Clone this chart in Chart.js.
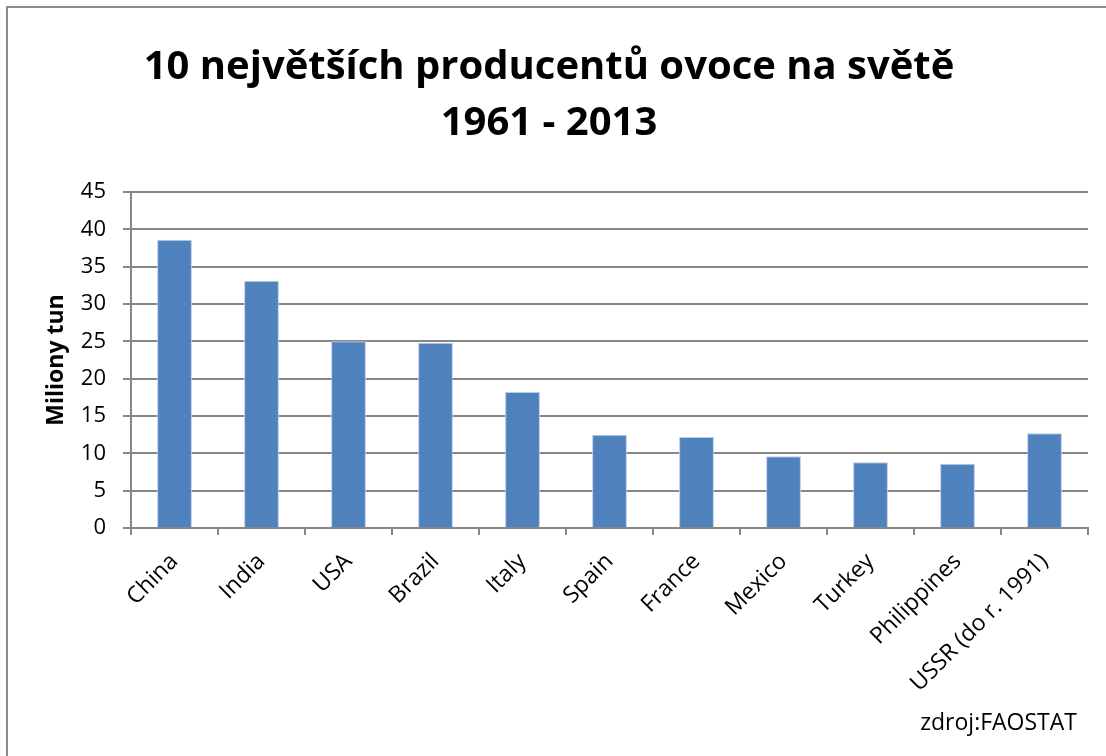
<!DOCTYPE html>
<html>
<head>
<meta charset="utf-8">
<script src="https://cdn.jsdelivr.net/npm/chart.js@4"></script>
<style>
  html, body { margin: 0; padding: 0; background: #fff; }
  #wrap { position: relative; width: 1106px; height: 756px; }
</style>
</head>
<body>
<div id="wrap"><canvas id="fruitChart" width="1106" height="756"></canvas></div>
<script>
const countries = ['China', 'India', 'USA', 'Brazil', 'Italy', 'Spain', 'France', 'Mexico', 'Turkey', 'Philippines', 'USSR (do r. 1991)'];
const production = [38.6, 33.1, 25.0, 24.8, 18.2, 12.5, 12.2, 9.6, 8.8, 8.6, 12.7];
const yTicks = [0, 5, 10, 15, 20, 25, 30, 35, 40, 45];

const FONT = "'Open Sans', sans-serif";
const GRID = '#878787';

// ramecek kolem celeho grafu + zdroj vpravo dole
const framePlugin = {
    id: 'frame',
    beforeDraw(chart) {
        const c = chart.ctx;
        c.save();
        c.fillStyle = '#fff';
        c.fillRect(0, 0, chart.width, chart.height);
        c.strokeStyle = '#8c8c8c';
        c.lineWidth = 2;
        c.strokeRect(7, 7, chart.width + 10, chart.height + 10);
        c.restore();
    },
    afterDraw(chart) {
        const c = chart.ctx;
        c.save();
        c.fillStyle = '#000';
        c.font = "23px " + FONT;
        c.textAlign = 'right';
        c.textBaseline = 'middle';
        c.fillText('zdroj:FAOSTAT', 1077, 723);
        c.restore();
    }
};

new Chart(document.getElementById('fruitChart'), {
    type: 'bar',
    data: {
        labels: countries,
        datasets: [{
            label: 'Miliony tun',
            data: production,
            backgroundColor: '#4f81bd',
            borderColor: '#b9cde5',
            borderWidth: 1,
            categoryPercentage: 1,
            barPercentage: 0.4
        }]
    },
    options: {
        responsive: false,
        animation: false,
        layout: { padding: { left: 10, right: 18, top: 0, bottom: 0 } },
        plugins: {
            legend: { display: false },
            tooltip: { enabled: false },
            title: {
                display: true,
                text: ['10 největších producentů ovoce na světě', '1961 - 2013'],
                color: '#000',
                font: { family: FONT, size: 40, weight: 'bold', lineHeight: 1.4 },
                padding: { top: 40, bottom: 40 }
            }
        },
        scales: {
            x: {
                offset: true,
                grid: {
                    offset: true,
                    drawOnChartArea: false,
                    color: GRID,
                    lineWidth: 2,
                    tickLength: 7
                },
                border: { color: GRID, width: 2 },
                ticks: {
                    color: '#000',
                    font: { family: FONT, size: 23 },
                    minRotation: 45,
                    maxRotation: 45,
                    padding: 13,
                    autoSkip: false
                },
                afterFit(scale) { scale.height = 228; }
            },
            y: {
                min: 0,
                max: 45,
                afterBuildTicks(scale) { scale.ticks = yTicks.map(v => ({ value: v })); },
                grid: { color: GRID, lineWidth: 2, tickLength: 8 },
                border: { color: GRID, width: 2 },
                ticks: {
                    color: '#000',
                    font: { family: FONT, size: 22 },
                    padding: 17
                },
                title: {
                    display: true,
                    text: 'Miliony tun',
                    color: '#000',
                    font: { family: FONT, size: 23, weight: 'bold' },
                    padding: { top: 33, bottom: 0 }
                },
                afterFit(scale) { scale.width = 121; }
            }
        }
    },
    plugins: [framePlugin]
});
</script>
</body>
</html>
